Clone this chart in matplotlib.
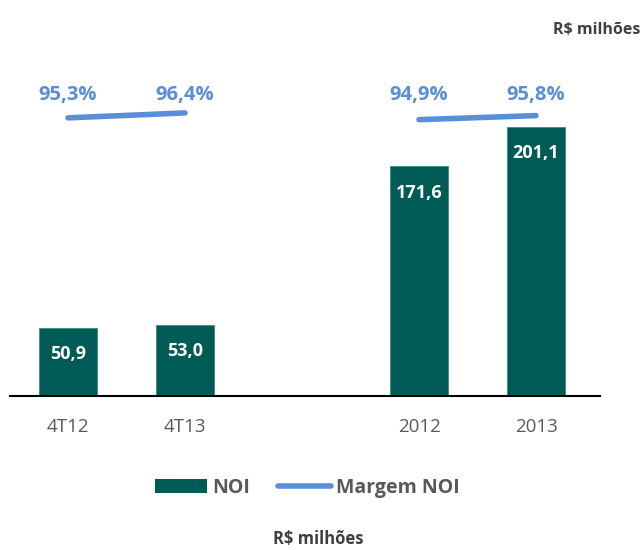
import matplotlib.pyplot as plt
from matplotlib.lines import Line2D
from matplotlib.patches import Patch
from matplotlib.transforms import blended_transform_factory

plt.rcParams['font.family'] = ['Open Sans', 'DejaVu Sans']

# data
categories = ['4T12', '4T13', '2012', '2013']
positions = [0, 1, 3, 4]
noi = [50.9, 53.0, 171.6, 201.1]
margem = [95.3, 96.4, 94.9, 95.8]

bar_color = '#005A55'
line_color = '#5A8ED6'
gray = '#595959'

fig = plt.figure(figsize=(6.44, 5.5), dpi=100)
ax = fig.add_axes([10 / 644, 154 / 550, 590 / 644, 356 / 550])

bars = ax.bar(positions, noi, width=0.49, color=bar_color, edgecolor='#3E8A85', linewidth=0.6)
for b, v in zip(bars, noi):
    ax.annotate(f'{v:.1f}'.replace('.', ','), (b.get_x() + b.get_width() / 2, v),
                xytext=(0, -19), textcoords='offset points', ha='center', va='center',
                color='white', fontsize=13, fontweight='bold')

ax.set_xlim(-0.496, 4.547)
ax.set_ylim(0, 266)
ax.set_xticks(positions)
ax.set_xticklabels(categories, fontsize=13.5, color=gray)
ax.tick_params(axis='x', length=0, pad=16)
ax.set_yticks([])
for s in ['top', 'right', 'left']:
    ax.spines[s].set_visible(False)
ax.spines['bottom'].set_color('black')
ax.spines['bottom'].set_linewidth(1.5)

# margin on secondary axis, two separate segments
ax2 = ax.twinx()
ax2.set_ylim(33.5, 112.6)
ax2.axis('off')
for i in (0, 2):
    ax2.plot(positions[i:i + 2], margem[i:i + 2], color=line_color, lw=4, solid_capstyle='round')
tr = blended_transform_factory(ax2.transData, ax2.transAxes)
for x, m in zip(positions, margem):
    ax2.text(x, 0.845, f'{m:.1f}%'.replace('.', ','), transform=tr, ha='center', va='center',
             color=line_color, fontsize=14.5, fontweight='bold')

handles = [Patch(facecolor=bar_color, label='NOI'),
           Line2D([0], [0], color=line_color, lw=4, solid_capstyle='round', label='Margem NOI')]
leg = fig.legend(handles=handles, loc='center', bbox_to_anchor=(307 / 644, 1 - 488 / 550), ncol=2,
                 frameon=False, handlelength=2.7, handletextpad=0.26, columnspacing=1.45,
                 prop={'size': 14, 'weight': 'bold'})
for t in leg.get_texts():
    t.set_color(gray)

fig.text(640 / 644, 1 - 30 / 550, 'R$ milhões', ha='right', va='center', fontsize=11.5,
         fontweight='bold', color='#404040')
fig.text(318 / 644, 2 / 550, 'R$ milhões', ha='center', va='bottom', fontsize=12,
         fontweight='bold', color='#404040')

fig.savefig('out.png', dpi=100)
